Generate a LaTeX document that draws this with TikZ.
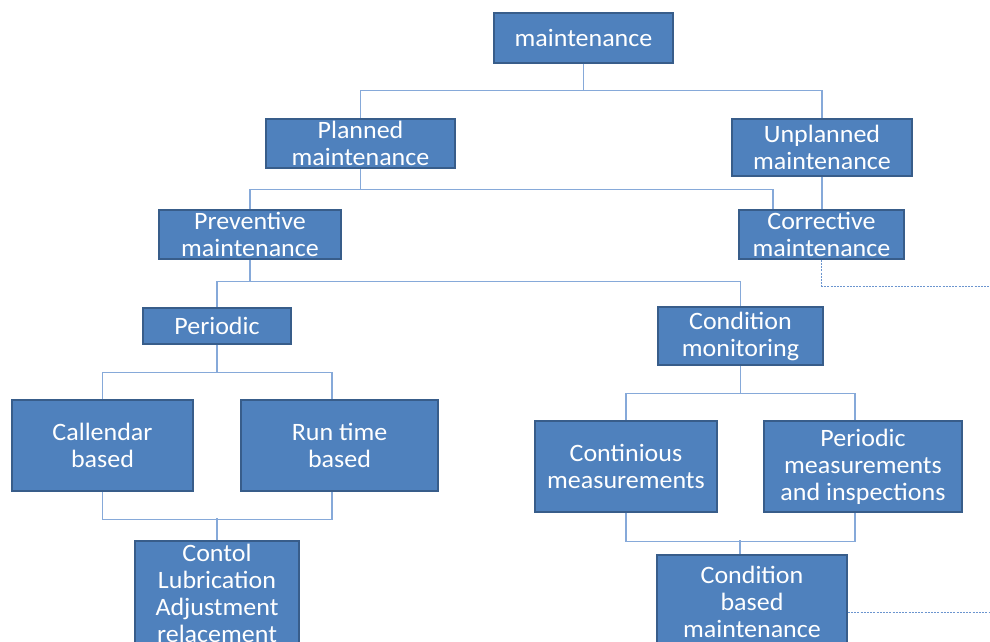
\documentclass[tikz,border=0pt]{standalone}
\usepackage{fontspec}
\setmainfont[FakeStretch=1.04]{Carlito}
\definecolor{boxfill}{HTML}{4F81BD}
\definecolor{boxline}{HTML}{385D8A}
\definecolor{connline}{HTML}{86A9D9}
\definecolor{dashline}{HTML}{6B95CF}
\begin{document}
\begin{tikzpicture}[x=1pt,y=-1pt,
  box/.style={draw=boxline, line width=1.6pt, fill=boxfill, text=white,
    inner sep=0pt, align=center, font=\fontsize{25}{27}\selectfont},
  conn/.style={draw=connline, line width=1.1pt},
  dashconn/.style={draw=dashline, line width=1pt, dash pattern=on 2pt off 1.2pt}]
\useasboundingbox (0,0) rectangle (990,641);
\clip (0,0) rectangle (990,641);
\fill[white] (0,0) rectangle (990,641);

\node[box, minimum width=179pt, minimum height=50pt] (maint) at (583.5,38) {maintenance};
\node[box, minimum width=189pt, minimum height=49pt] (planned) at (360.5,143.5) {Planned\\maintenance};
\node[box, minimum width=180pt, minimum height=57pt] (unplanned) at (822,147.5) {Unplanned\\maintenance};
\node[box, minimum width=182pt, minimum height=49pt] (prev) at (250,234.5) {Preventive\\maintenance};
\node[box, minimum width=165pt, minimum height=49pt] (corr) at (821.5,234.5) {Corrective\\maintenance};
\node[box, minimum width=148pt, minimum height=36pt] (periodic) at (217,326) {Periodic};
\node[box, minimum width=165pt, minimum height=58pt] (cm) at (740.5,336) {Condition\\monitoring};
\node[box, minimum width=181pt, minimum height=91pt] (cal) at (102.5,445.5) {Callendar\\based};
\node[box, minimum width=197pt, minimum height=91pt] (run) at (339.5,445.5) {Run time\\based};
\node[box, minimum width=182pt, minimum height=91pt] (cont) at (626,466.5) {Continious\\measurements};
\node[box, minimum width=198pt, minimum height=91pt] (pmi) at (863,466.5) {Periodic\\measurements\\and inspections};
\node[box, minimum width=164pt, minimum height=105pt] (contol) at (217,593.5) {Contol\\Lubrication\\Adjustment\\relacement};
\node[box, minimum width=190pt, minimum height=94pt] (cbm) at (752,602) {Condition\\based\\maintenance};

\coordinate (e1) at (995,286);
\coordinate (e2) at (995,612);

% connectors
\draw[conn] (maint.south) -- ++(0,27) -| (planned.north);
\draw[conn] (maint.south) -- ++(0,27) -| (unplanned.north);
\draw[conn] (planned.south) -- ++(0,21) -| (prev.north);
\draw[conn] (planned.south) -- ++(0,21) -| ([xshift=-48.5pt]corr.north);
\draw[conn] (unplanned.south) -- (unplanned.south |- corr.north);
\draw[dashconn] (corr.south) |- (e1);
\draw[conn] (prev.south) -- ++(0,22) -| (periodic.north);
\draw[conn] (prev.south) -- ++(0,22) -| (cm.north);
\draw[conn] (periodic.south) -- ++(0,28) -| (cal.north);
\draw[conn] (periodic.south) -- ++(0,28) -| ([xshift=-7.5pt]run.north);
\draw[conn] (cal.south) -- ++(0,28) -| ([xshift=-7.5pt]run.south);
\draw[conn] (contol.north) -- ++(0,-22);
\draw[conn] (cm.south) -- ++(0,28) -| (cont.north);
\draw[conn] (cm.south) -- ++(0,28) -| ([xshift=-8pt]pmi.north);
\draw[conn] (cont.south) -- ++(0,29) -| ([xshift=-8pt]pmi.south);
\draw[conn] ([xshift=-12pt]cbm.north) -- ++(0,-14);
\draw[dashconn] ([yshift=-10pt]cbm.east) -- (e2);
\end{tikzpicture}
\end{document}
